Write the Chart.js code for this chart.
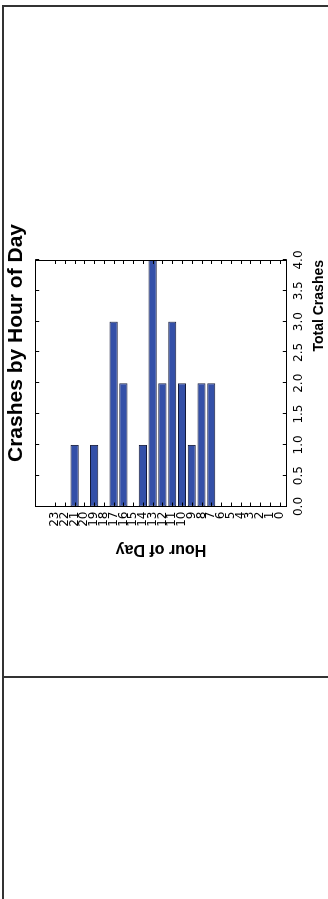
<!DOCTYPE html>
<html>
<head>
<meta charset="utf-8">
<title>Crashes by Hour of Day</title>
<script src="https://cdn.jsdelivr.net/npm/chart.js@4/dist/chart.umd.min.js"></script>
<style>
  html, body { margin: 0; padding: 0; background: #fff; }
  body { width: 328px; height: 899px; position: relative; overflow: hidden; }
  .frame { position: absolute; left: 2px; top: 5px; right: 0; bottom: 0; border-left: 2px solid #333; border-top: 2px solid #333; }
  .rule { position: absolute; left: 2px; right: 0; top: 676px; height: 2px; background: #333; }
  /* the chart is drawn the usual way and then turned a quarter turn to the left */
  .holder { position: absolute; left: 0; top: 36px; width: 328px; height: 614px; }
  .turn { position: absolute; left: 0; top: 0; width: 614px; height: 328px; transform-origin: 0 0; transform: translateY(614px) rotate(-90deg); }
</style>
</head>
<body>
<div class="frame"></div>
<div class="rule"></div>
<div class="holder"><div class="turn"><canvas id="myChart"></canvas></div></div>
<script>
var hours = [0, 1, 2, 3, 4, 5, 6, 7, 8, 9, 10, 11, 12, 13, 14, 15, 16, 17, 18, 19, 20, 21, 22, 23];
var crashes = [0, 0, 0, 0, 0, 0, 0, 2, 2, 1, 2, 3, 2, 4, 1, 0, 2, 3, 0, 1, 0, 1, 0, 0];
var crashTicks = [0, 0.5, 1, 1.5, 2, 2.5, 3, 3.5, 4];

// matplotlib style box with short ticks pointing inwards
var innerTicks = {
  id: 'innerTicks',
  afterDatasetsDraw: function(chart) {
    var ctx = chart.ctx;
    var a = chart.chartArea;
    var x = chart.scales.x;
    var y = chart.scales.y;
    ctx.save();
    ctx.strokeStyle = '#000';
    ctx.lineWidth = 1;
    ctx.beginPath();
    x.ticks.forEach(function(t) {
      var px = Math.round(x.getPixelForValue(t.value)) + 0.5;
      ctx.moveTo(px, a.top); ctx.lineTo(px, a.top + 4);
      ctx.moveTo(px, a.bottom); ctx.lineTo(px, a.bottom - 4);
    });
    y.ticks.forEach(function(t) {
      var py = Math.round(y.getPixelForValue(t.value)) + 0.5;
      ctx.moveTo(a.left, py); ctx.lineTo(a.left + 4, py);
      ctx.moveTo(a.right, py); ctx.lineTo(a.right - 4, py);
    });
    ctx.stroke();
    ctx.strokeRect(Math.round(a.left) + 0.5, Math.round(a.top) + 0.5, Math.round(a.width) - 1, Math.round(a.height) - 1);
    ctx.restore();
  }
};

var ctx = document.getElementById('myChart').getContext('2d');
var myChart = new Chart(ctx, {
  type: 'bar',
  data: {
    labels: hours,
    datasets: [{
      label: 'Total Crashes',
      data: crashes,
      backgroundColor: '#3450a8',
      borderColor: '#141a3a',
      borderWidth: 1,
      borderSkipped: false,
      categoryPercentage: 1,
      barPercentage: 0.84
    }]
  },
  options: {
    indexAxis: 'y',
    responsive: true,
    maintainAspectRatio: false,
    animation: false,
    layout: { padding: 0 },
    plugins: {
      legend: { display: false },
      tooltip: { enabled: false },
      title: {
        display: true,
        text: 'Crashes by Hour of Day',
        color: '#000',
        font: { family: 'Liberation Sans', size: 21, weight: 'bold' },
        padding: { top: 4, bottom: 6 }
      }
    },
    scales: {
      x: {
        type: 'linear',
        position: 'bottom',
        min: 0,
        max: 4,
        afterBuildTicks: function(scale) {
          scale.ticks = crashTicks.map(function(v) { return { value: v }; });
        },
        ticks: {
          color: '#000',
          padding: 5,
          font: { family: 'DejaVu Sans', size: 12 },
          callback: function(v) { return Number(v).toFixed(1); }
        },
        grid: { display: false, drawTicks: false },
        border: { display: false },
        title: {
          display: true,
          text: 'Total Crashes',
          align: 'end',
          color: '#000',
          font: { family: 'Liberation Sans', size: 14, weight: 'bold' },
          padding: { top: 0, bottom: 0 }
        }
      },
      y: {
        type: 'linear',
        position: 'left',
        min: -0.2,
        max: 24.5,
        afterBuildTicks: function(scale) {
          scale.ticks = hours.map(function(h) { return { value: h }; });
        },
        ticks: {
          color: '#000',
          padding: 5,
          autoSkip: false,
          font: { family: 'DejaVu Sans', size: 12 },
          callback: function(v) { return String(v); }
        },
        grid: { display: false, drawTicks: false },
        border: { display: false },
        title: {
          display: true,
          text: 'Hour of Day',
          color: '#000',
          font: { family: 'Liberation Sans', size: 16, weight: 'bold' },
          padding: { top: 91, bottom: 8 }
        }
      },
      // empty right-hand axis, only keeps the room the title sits over
      y2: {
        type: 'linear',
        position: 'right',
        display: true,
        ticks: { display: false },
        grid: { display: false, drawTicks: false },
        border: { display: false },
        afterFit: function(scale) { scale.width = 224; }
      }
    }
  },
  plugins: [innerTicks]
});
</script>
</body>
</html>
